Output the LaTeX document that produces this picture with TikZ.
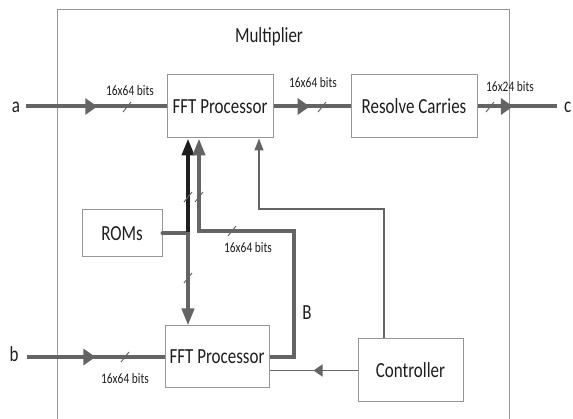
\documentclass[tikz,border=0pt]{standalone}
\usepackage{fontspec}
\setmainfont{Carlito}[FakeStretch=0.79]
\usetikzlibrary{arrows.meta,decorations.markings}

\definecolor{wiregray}{RGB}{100,100,100}
\definecolor{wiredark}{RGB}{30,30,30}
\definecolor{boxgray}{RGB}{150,150,150}
\definecolor{inkdark}{RGB}{30,30,30}

\tikzset{
  block/.style={draw=boxgray, line width=1pt, inner sep=0pt, text=inkdark,
    font=\fontsize{21.5}{23}\selectfont},
  port/.style={inner sep=2pt, text=inkdark, anchor=base, font=\fontsize{21.5}{23}\selectfont},
  buslabel/.style={inner sep=0pt, text=inkdark, font=\fontsize{14.5}{16}\selectfont},
  frame/.style={boxgray, line width=1pt},
  bus/.style={wiregray, line width=4pt},
  busdark/.style={wiredark, line width=4pt},
  ctrl/.style={wiregray, line width=1.5pt},
  uphead/.style={-{Triangle[length=17pt,width=12pt]}},
  thinhead/.style={-{Triangle[length=12pt,width=9pt]}},
  midhead/.style={postaction={decorate}, decoration={markings,
    mark=at position #1 with {\arrow{Triangle[length=12pt,width=16pt]}}}},
  midthin/.style={postaction={decorate}, decoration={markings,
    mark=at position #1 with {\arrow{Triangle[length=9pt,width=12pt]}}}},
  tick/.pic={\draw[wiregray, line width=1pt] (-4,5) -- (4,-5);}
}

\begin{document}
\begin{tikzpicture}[x=1pt,y=-1pt]
\useasboundingbox (0,0) rectangle (573,419);

% enclosing multiplier frame
\draw[frame] (57,430) |- (509,10) -- (509,430);
\node[port] (mult) at (269,43) {Multiplier};

% blocks
\node[block, minimum width=106pt, minimum height=63pt] (fftA) at (220,106.5) {FFT Processor};
\node[block, minimum width=126pt, minimum height=63pt] (carry) at (414,106.5) {Resolve Carries};
\node[block, minimum width=80pt, minimum height=47pt] (roms) at (122,233.5) {ROMs};
\node[block, minimum width=104pt, minimum height=62pt] (fftB) at (217,357) {FFT Processor};
\node[block, minimum width=105pt, minimum height=63pt] (control) at (410.5,370.5) {Controller};

% inputs and output
\node[port] (ina) at (16,113) {a};
\node[port] (inb) at (14,362) {b};
\node[port, anchor=base west, inner sep=0pt] (outc) at (564,113) {c};

% data buses
\draw[bus, midhead=0.52, shorten <=4pt] (ina.east |- fftA.west) -- (fftA.west);
\draw[bus, midhead=0.47] (fftA.east) -- (carry.west);
\draw[bus, midhead=0.41, shorten >=7pt] (carry.east) -- (carry.east -| outc.west);
\draw[bus, midhead=0.52, shorten <=6pt] (inb.east |- fftB.west) -- (fftB.west);

% twiddle factors from the ROMs
\coordinate (romjoin) at (188,232);
\draw[bus, line cap=round] (roms.east) -- (roms.east -| romjoin);
\draw[busdark, uphead] (romjoin) -- (romjoin |- fftA.south);
\draw[bus, uphead] (romjoin) -- (romjoin |- fftB.north);

% transformed B fed back
\coordinate (bturn) at (294,231);
\coordinate (bback) at (199,231);
\draw[bus, uphead] (fftB.east) -| (bturn) -- (bback) -- (bback |- fftA.south);

% control lines
\coordinate (ctlup) at (384,209);
\coordinate (ctlleft) at (259,209);
\draw[ctrl, thinhead] (control.north -| ctlup) -- (ctlup) -- (ctlleft) -- (ctlleft |- fftA.south);
\draw[ctrl, midthin=0.5] (control.west) -- (fftB.east |- control.west);

% bus width ticks
\pic at (127,107) {tick};
\pic at (322,107) {tick};
\pic at (490,107) {tick};
\pic at (125,357) {tick};
\pic at (188,197) {tick};
\pic at (199,197) {tick};
\pic at (188,278) {tick};
\pic at (232,231) {tick};

% bus labels
\node[buslabel] (wa) at (130,91) {16x64 bits};
\node[buslabel] (wfft) at (313,83) {16x64 bits};
\node[buslabel] (wc) at (510,87) {16x24 bits};
\node[buslabel] (wback) at (248,248) {16x64 bits};
\node[buslabel] (wb) at (125,379) {16x64 bits};
\node[port] (lblB) at (307,320) {B};
\end{tikzpicture}
\end{document}
